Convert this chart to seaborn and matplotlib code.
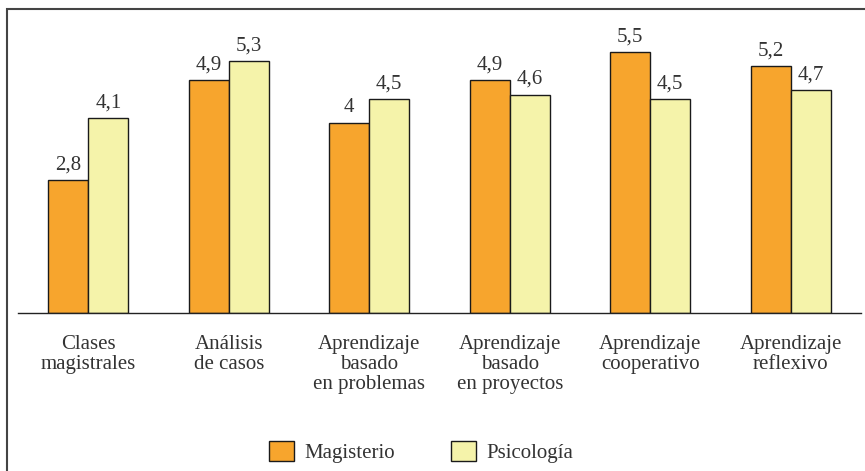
import matplotlib
matplotlib.use('Agg')
import pandas as pd
import seaborn as sns
from matplotlib import pyplot as plt
from matplotlib.patches import Patch, Rectangle

categories = ['Clases\nmagistrales', 'Análisis\nde casos', 'Aprendizaje\nbasado\nen problemas',
              'Aprendizaje\nbasado\nen proyectos', 'Aprendizaje\ncooperativo', 'Aprendizaje\nreflexivo']
magisterio = [2.8, 4.9, 4.0, 4.9, 5.5, 5.2]
psicologia = [4.1, 5.3, 4.5, 4.6, 4.5, 4.7]
series = ['Magisterio', 'Psicología']
colors = ['#F7A52D', '#F5F3AA']

df = pd.DataFrame({
    'cat': categories * 2,
    'val': magisterio + psicologia,
    'grupo': [series[0]] * len(categories) + [series[1]] * len(categories),
})

sns.set_style('white')
plt.rcParams['font.family'] = ['Liberation Serif', 'DejaVu Serif']

W, H = 865, 471
fig = plt.figure(figsize=(W / 100, H / 100), dpi=100)
ax = fig.add_axes([18 / W, 1 - 313 / H, 843 / W, 285 / H])

sns.barplot(data=df, x='cat', y='val', hue='grupo', palette=colors, width=0.57, gap=0,
            saturation=1, edgecolor='#1a1a1a', linewidth=1, ax=ax, legend=False)

for cont in ax.containers:
    ax.bar_label(cont, labels=[f'{v:g}'.replace('.', ',') for v in cont.datavalues],
                 padding=4, fontsize=15, color='#333333')

ax.set_xlim(-0.5, len(categories) - 0.5)
ax.set_ylim(0, 6)
ax.set_xlabel('')
ax.set_ylabel('')
ax.set_yticks([])
ax.set_xticks(range(len(categories)))
ax.set_xticklabels(categories, fontsize=15, color='#333333', linespacing=1.05, va='top')
ax.tick_params(axis='x', which='major', length=0, pad=16)
ax.set_xticks([i - 0.5 for i in range(len(categories) + 1)], minor=True)
ax.tick_params(axis='x', which='minor', length=3, width=1, color='#222222', direction='out')
for s in ['left', 'right', 'top']:
    ax.spines[s].set_visible(False)
ax.spines['bottom'].set_color('#222222')
ax.spines['bottom'].set_linewidth(1)

handles = [Patch(facecolor=c, edgecolor='#1a1a1a', linewidth=1, label=s) for c, s in zip(colors, series)]
fig.legend(handles=handles, loc='center', bbox_to_anchor=(421 / W, 1 - 452 / H), ncol=2,
           frameon=False, fontsize=15, handlelength=1.2, handleheight=1.1,
           handletextpad=0.5, columnspacing=2.7, labelcolor='#333333')

fig.patches.append(Rectangle((7 / W, -0.05), 1.0, 1 - 9 / H + 0.05, transform=fig.transFigure,
                             fill=False, edgecolor='#444444', linewidth=1.5))

fig.savefig('out.png', dpi=100)
